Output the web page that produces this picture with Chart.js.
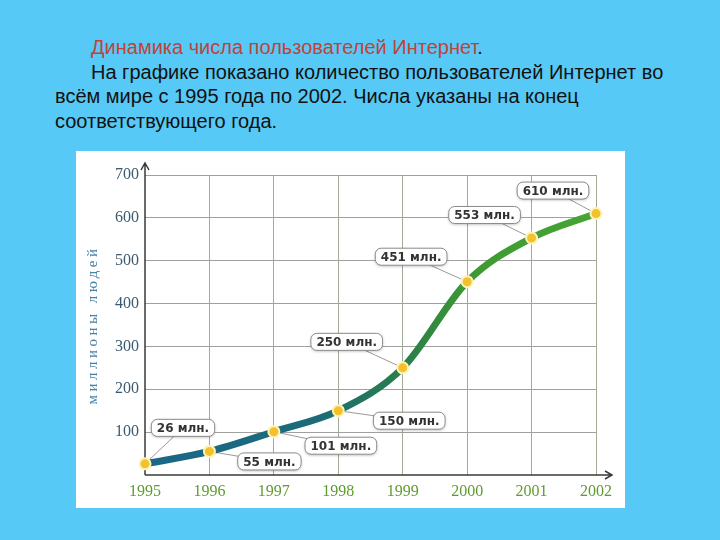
<!DOCTYPE html>
<html>
<head>
<meta charset="utf-8">
<script src="https://cdn.jsdelivr.net/npm/chart.js@4.4.1/dist/chart.umd.min.js"></script>
<style>
  html, body { margin: 0; padding: 0; }
  body { width: 720px; height: 540px; background: #57c9f6; position: relative; overflow: hidden; }
  #caption {
    position: absolute; left: 55px; top: 35px; width: 660px;
    font: 20px "Liberation Sans", Arial, sans-serif; line-height: 24.5px; color: #111;
  }
  #caption .red { color: #c0433a; }
  #caption .ind { padding-left: 36px; }
  #panel { position: absolute; left: 76px; top: 151px; width: 549px; height: 357px; background: #fff; }
</style>
</head>
<body>
<div id="caption">
  <div class="ind"><span class="red">Динамика числа пользователей Интернет</span>.</div>
  <div class="ind">На графике показано количество пользователей Интернет во</div>
  <div>всём мире с 1995 года по 2002. Числа указаны на конец</div>
  <div>соответствующего года.</div>
</div>
<div id="panel"><canvas id="chart" width="549" height="357"></canvas></div>
<script>
// data
const years = [1995, 1996, 1997, 1998, 1999, 2000, 2001, 2002];
const users = [26, 55, 101, 150, 250, 451, 553, 610];
const pointLabels = ['26 млн.', '55 млн.', '101 млн.', '150 млн.', '250 млн.', '451 млн.', '553 млн.', '610 млн.'];
const yTicks = [100, 200, 300, 400, 500, 600, 700];
const yTitle = 'миллионы людей';

// where each callout box sits relative to its point (px)
const labelOffsets = [[38, -36], [60, 10], [67, 14], [71, 10], [-56, -26], [-56, -25], [-47, -23], [-43, -23]];

function lineGradient(context) {
  const { ctx, chartArea } = context.chart;
  if (!chartArea) return '#1d6a8a';
  const g = ctx.createLinearGradient(chartArea.left, 0, chartArea.right, 0);
  g.addColorStop(0, '#1a6788');
  g.addColorStop(0.38, '#1b6b78');
  g.addColorStop(0.58, '#2a7f48');
  g.addColorStop(0.72, '#3d9a33');
  g.addColorStop(1, '#47a534');
  return g;
}

// axis lines with arrows, drawn under the curve
const axisArrows = {
  id: 'axisArrows',
  beforeDatasetsDraw(chart) {
    const { ctx, chartArea: a } = chart;
    ctx.save();
    ctx.strokeStyle = '#3a3a3a';
    ctx.lineWidth = 1.5;
    ctx.beginPath();
    ctx.moveTo(a.left, a.bottom);
    ctx.lineTo(a.right + 16, a.bottom);
    ctx.moveTo(a.right + 9, a.bottom - 4);
    ctx.lineTo(a.right + 16, a.bottom);
    ctx.lineTo(a.right + 9, a.bottom + 4);
    ctx.moveTo(a.left, a.bottom);
    ctx.lineTo(a.left, a.top - 12);
    ctx.moveTo(a.left - 4, a.top - 5);
    ctx.lineTo(a.left, a.top - 12);
    ctx.lineTo(a.left + 4, a.top - 5);
    ctx.stroke();

    // leader lines for callouts
    const pts = chart.getDatasetMeta(0).data;
    ctx.strokeStyle = '#9a9a9a';
    ctx.lineWidth = 1;
    pts.forEach((p, i) => {
      ctx.beginPath();
      ctx.moveTo(p.x, p.y);
      ctx.lineTo(p.x + labelOffsets[i][0], p.y + labelOffsets[i][1]);
      ctx.stroke();
    });
    ctx.restore();
  }
};

function roundRect(ctx, x, y, w, h, r) {
  ctx.beginPath();
  ctx.moveTo(x + r, y);
  ctx.arcTo(x + w, y, x + w, y + h, r);
  ctx.arcTo(x + w, y + h, x, y + h, r);
  ctx.arcTo(x, y + h, x, y, r);
  ctx.arcTo(x, y, x + w, y, r);
  ctx.closePath();
}

const callouts = {
  id: 'callouts',
  afterDatasetsDraw(chart) {
    const { ctx } = chart;
    const pts = chart.getDatasetMeta(0).data;
    ctx.save();
    ctx.font = 'bold 12px "DejaVu Sans"';
    ctx.textAlign = 'center';
    ctx.textBaseline = 'middle';
    pts.forEach((p, i) => {
      const cx = p.x + labelOffsets[i][0];
      const cy = p.y + labelOffsets[i][1];
      const w = ctx.measureText(pointLabels[i]).width + 11;
      const h = 17;
      ctx.shadowColor = 'rgba(0,0,0,0.3)';
      ctx.shadowBlur = 3;
      ctx.shadowOffsetY = 1;
      roundRect(ctx, cx - w / 2, cy - h / 2, w, h, 6);
      ctx.fillStyle = '#fff';
      ctx.fill();
      ctx.shadowColor = 'transparent';
      ctx.strokeStyle = '#8c8c8c';
      ctx.lineWidth = 1;
      ctx.stroke();
      ctx.fillStyle = '#333';
      ctx.fillText(pointLabels[i], cx, cy + 1);
    });
    ctx.restore();
  }
};

const yAxisTitle = {
  id: 'yAxisTitle',
  afterDraw(chart) {
    const { ctx, chartArea: a } = chart;
    ctx.save();
    ctx.translate(17, (a.top + a.bottom) / 2);
    ctx.rotate(-Math.PI / 2);
    ctx.font = '15px "Liberation Serif"';
    ctx.letterSpacing = '3.5px';
    ctx.fillStyle = '#4a82a6';
    ctx.textAlign = 'center';
    ctx.textBaseline = 'middle';
    ctx.fillText(yTitle, 0, 0);
    ctx.restore();
  }
};

const ctx = document.getElementById('chart').getContext('2d');
const chart = new Chart(ctx, {
  type: 'line',
  data: {
    datasets: [{
      data: years.map((y, i) => ({ x: y, y: users[i] })),
      borderColor: lineGradient,
      borderWidth: 7,
      cubicInterpolationMode: 'monotone',
      pointRadius: 5.5,
      pointBackgroundColor: '#f2c12c',
      pointBorderColor: '#fff3b8',
      pointBorderWidth: 2,
      clip: false
    }]
  },
  options: {
    responsive: false,
    animation: false,
    layout: { padding: { left: 0, right: 29, top: 24, bottom: 0 } },
    plugins: { legend: { display: false }, tooltip: { enabled: false } },
    scales: {
      x: {
        type: 'linear',
        min: years[0],
        max: years[years.length - 1],
        afterFit(scale) { scale.height = 33; },
        border: { display: false },
        grid: {
          drawTicks: false,
          color: c => c.tick && c.tick.value === years[0] ? 'transparent' : '#a3ab96'
        },
        ticks: {
          stepSize: 1,
          padding: 7,
          color: '#5e9b2e',
          font: { family: 'Liberation Serif', size: 16 },
          callback: v => String(v)
        }
      },
      y: {
        min: 0,
        max: yTicks[yTicks.length - 1],
        afterFit(scale) { scale.width = 69; },
        afterBuildTicks(scale) { scale.ticks = [0].concat(yTicks).map(v => ({ value: v })); },
        border: { display: false },
        grid: {
          drawTicks: false,
          color: c => c.tick && c.tick.value === 0 ? 'transparent' : '#a0a0a0'
        },
        ticks: {
          padding: 6,
          color: '#3b5a70',
          font: { family: 'Liberation Serif', size: 16 },
          callback: v => v === 0 ? '' : String(v)
        }
      }
    }
  },
  plugins: [axisArrows, callouts, yAxisTitle]
});
</script>
</body>
</html>
